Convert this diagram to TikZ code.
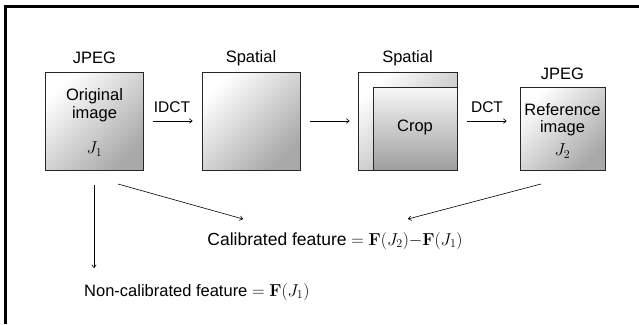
\documentclass[tikz,border=0pt]{standalone}
\usepackage[no-math]{fontspec}
\setmainfont{Liberation Sans}
\usetikzlibrary{arrows.meta}
\begin{document}
\begin{tikzpicture}[x=1pt,y=-1pt,
  imgbox/.style={draw=black!85, line width=0.8pt, inner sep=0pt,
    top color=white, bottom color=black!34, shading angle=45},
  cropbox/.style={imgbox, top color=black!3, bottom color=black!38},
  head/.style={font=\fontsize{16.5}{19}\selectfont, inner sep=0pt},
  inbox/.style={font=\fontsize{16.5}{19}\selectfont, inner sep=0pt},
  oplabel/.style={font=\fontsize{15.5}{18}\selectfont, inner sep=0pt},
  feat/.style={font=\fontsize{16.5}{19}\selectfont, inner sep=0pt},
  flow/.style={-{To[length=3.5pt,width=5pt]}, line width=0.6pt}]
\useasboundingbox (0,0) rectangle (639,324);
% frame (top and left edges only)
\draw[line width=2.5pt] (5.5,324) -- (5.5,6.5) -- (639,6.5);

% image boxes
\node[imgbox, minimum width=98pt, minimum height=98pt] (b1) at (94.5,121) {};
\node[imgbox, minimum width=98pt, minimum height=98pt] (b2) at (251,121) {};
\node[imgbox, minimum width=99pt, minimum height=98pt] (b3) at (407.5,121) {};
\node[cropbox, minimum width=84pt, minimum height=83pt] (crop) at (415,128.5) {};
\node[imgbox, minimum width=85pt, minimum height=83pt] (b4) at (562.5,128.5) {};

% headings
\node[head] (h1) at (94.5,58) {JPEG};
\node[head] (h2) at (251,58) {Spatial};
\node[head] (h3) at (407.5,58) {Spatial};
\node[head] (h4) at (562.5,74) {JPEG};

% texts inside the boxes
\node[inbox] (t1a) at (94.5,96) {Original};
\node[inbox] (t1b) at (94.5,114) {image};
\node[inbox] (t1c) at (94.5,149) {$J_1$};
\node[inbox] (tc) at (415,127) {Crop};
\node[inbox] (t4a) at (562.5,110) {Reference};
\node[inbox] (t4b) at (562.5,128) {image};
\node[inbox] (t4c) at (562.5,151) {$J_2$};

% transforms between the boxes
\node[oplabel] (idct) at (172,107) {IDCT};
\node[oplabel] (dct) at (487,107) {DCT};
\draw[flow, shorten <=9.5pt, shorten >=9pt] (b1.east) -- (b2.west);
\draw[flow, shorten <=10pt, shorten >=8pt] (b2.east) -- (b3.west);
\draw[flow, shorten <=10pt, shorten >=13pt] (b3.east) -- (b3.east -| b4.west);

% features
\node[feat, font=\fontsize{17.5}{20}\selectfont] (cal) at (335,241) {Calibrated feature $=\mathbf{F}(J_2){-}\mathbf{F}(J_1)$};
\node[feat, anchor=west] (ncal) at (84,292) {Non-calibrated feature $=\mathbf{F}(J_1)$};

\coordinate (s1) at (118,184);
\coordinate (e1) at (243,219);
\coordinate (s2) at (541,184);
\coordinate (e2) at (408,219);
\coordinate (sv) at (94,185);
\coordinate (ev) at (94,268);
\draw[flow] (s1) -- (e1);
\draw[flow] (s2) -- (e2);
\draw[flow] (sv) -- (ev);
\end{tikzpicture}
\end{document}
